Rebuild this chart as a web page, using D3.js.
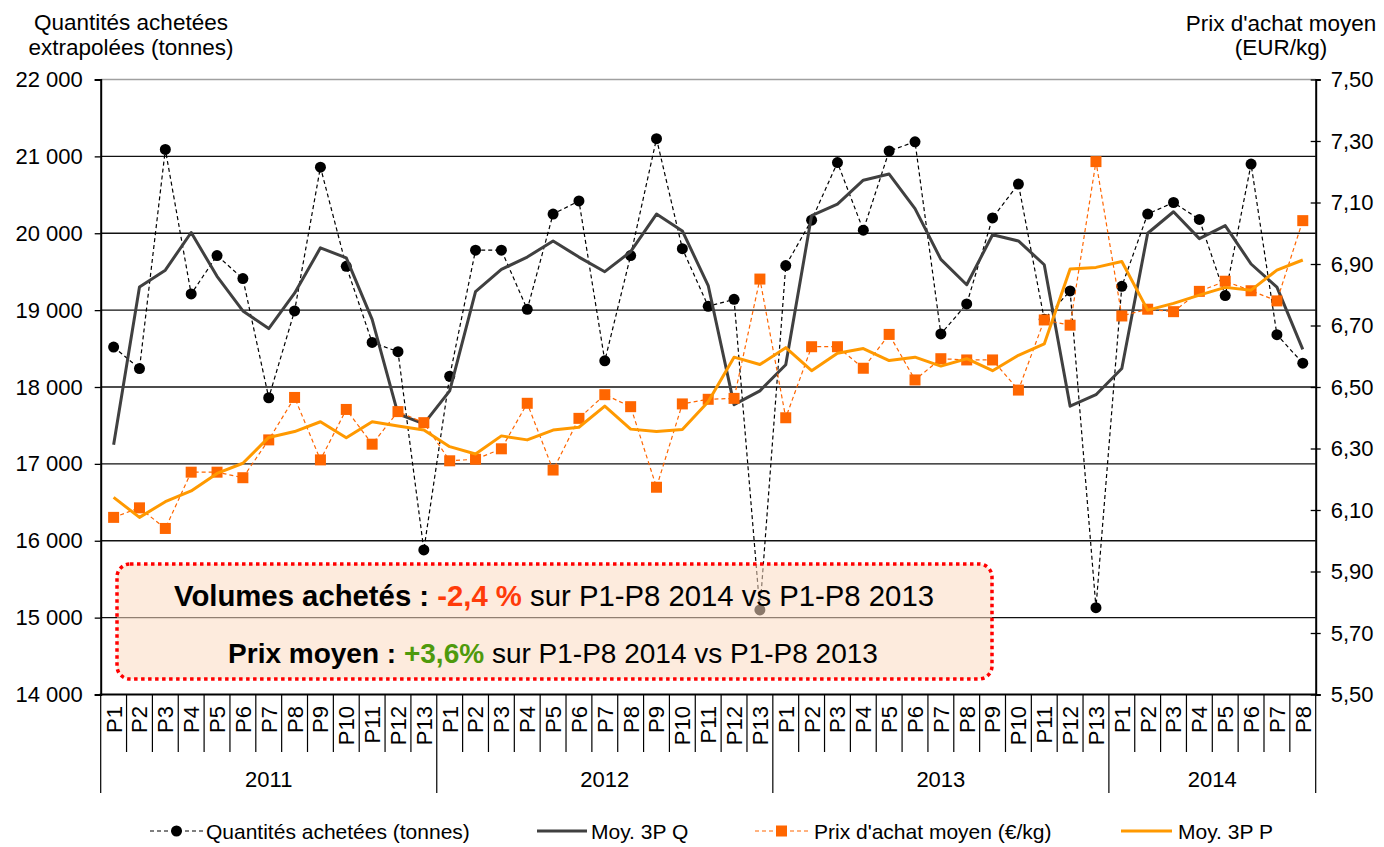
<!DOCTYPE html>
<html>
<head>
<meta charset="utf-8">
<script src="https://cdnjs.cloudflare.com/ajax/libs/d3/7.8.5/d3.min.js"></script>
<style>
    body { margin: 0; background: #fff; }
    text { font-family: "Liberation Sans", Arial, sans-serif; fill: #000; }
</style>
</head>
<body>
<div id="chart"></div>
<script>
// periods per year
var years = ["2011", "2012", "2013", "2014"];
var periodsPerYear = [13, 13, 13, 8];

// Quantités achetées (tonnes)
var quantites = [18520, 18240, 21090, 19210, 19710, 19410, 17860, 18990, 20860, 19570, 18580, 18460, 15880,
    18140, 19780, 19780, 19010, 20250, 20420, 18340, 19710, 21230, 19800, 19050, 19140, 15100,
    19580, 20170, 20920, 20040, 21070, 21190, 18690, 19080, 20200, 20640, 18880, 19250, 15130,
    19310, 20250, 20400, 20180, 19190, 20900, 18680, 18310];

// Moy. 3P Q
var moyQ = [17250, 19300, 19520, 20010, 19440, 18990, 18760, 19220, 19810, 19680, 18880, 17650, 17520,
    17950, 19240, 19530, 19690, 19900, 19690, 19500, 19760, 20250, 20030, 19320, 17770, 17950,
    18290, 20230, 20380, 20690, 20770, 20320, 19660, 19330, 19980, 19900, 19590, 17750, 17900,
    18240, 20000, 20280, 19930, 20100, 19600, 19300, 18490];

// Prix d'achat moyen (€/kg)
var prix = [6.076, 6.107, 6.040, 6.223, 6.223, 6.205, 6.328, 6.466, 6.263, 6.427, 6.314, 6.420, 6.384,
    6.260, 6.265, 6.299, 6.447, 6.230, 6.398, 6.475, 6.436, 6.174, 6.445, 6.460, 6.463, 6.851,
    6.400, 6.631, 6.631, 6.561, 6.671, 6.523, 6.592, 6.588, 6.588, 6.490, 6.718, 6.701, 7.233,
    6.731, 6.753, 6.745, 6.811, 6.844, 6.813, 6.780, 7.041];

// Moy. 3P P
var moyP = [6.141, 6.076, 6.127, 6.162, 6.219, 6.252, 6.336, 6.355, 6.387, 6.335, 6.387, 6.373, 6.360,
    6.306, 6.282, 6.341, 6.328, 6.360, 6.369, 6.438, 6.363, 6.355, 6.362, 6.452, 6.597, 6.573,
    6.628, 6.553, 6.610, 6.625, 6.586, 6.597, 6.568, 6.592, 6.553, 6.603, 6.640, 6.884, 6.889,
    6.908, 6.750, 6.772, 6.799, 6.824, 6.815, 6.880, 6.913];

var qTicks = [14000, 15000, 16000, 17000, 18000, 19000, 20000, 21000, 22000];
var pTicks = [5.5, 5.7, 5.9, 6.1, 6.3, 6.5, 6.7, 6.9, 7.1, 7.3, 7.5];

// build category list (year + period)
var categories = [];
years.forEach(function(y, yi) {
    for (var p = 1; p <= periodsPerYear[yi]; p++) {
        categories.push({year: y, period: "P" + p, key: y + "-P" + p});
    }
});

var width = 1384, height = 847;
var margin = {top: 79.5, left: 100.7, right: 1315.7, bottom: 694.5};

var svg = d3.select("#chart").append("svg")
    .attr("width", width)
    .attr("height", height);

var x = d3.scaleBand()
    .domain(categories.map(function(d) { return d.key; }))
    .range([margin.left, margin.right])
    .padding(0);

var yQ = d3.scaleLinear().domain([14000, 22000]).range([margin.bottom, margin.top]);
var yP = d3.scaleLinear().domain([5.5, 7.5]).range([margin.bottom, margin.top]);

var fr = d3.formatLocale({decimal: ",", thousands: "\u00a0", grouping: [3], currency: ["", "€"]});

function cx(i) { return x(categories[i].key) + x.bandwidth() / 2; }

// gridlines
svg.append("g").selectAll("line")
    .data(qTicks.slice(1))
    .enter().append("line")
    .attr("x1", margin.left).attr("x2", margin.right)
    .attr("y1", function(d) { return yQ(d); })
    .attr("y2", function(d) { return yQ(d); })
    .attr("stroke", function(d) { return d === 22000 ? "#a0a0a0" : "#111"; })
    .attr("stroke-width", 1.4);

// left axis
var leftAxis = svg.append("g")
    .attr("transform", "translate(" + margin.left + ",0)")
    .call(d3.axisLeft(yQ).tickValues(qTicks).tickSize(6).tickPadding(12).tickFormat(fr.format(",")));
leftAxis.select(".domain").attr("stroke", "#000").attr("stroke-width", 2);
leftAxis.selectAll(".tick line").attr("stroke", "#000").attr("stroke-width", 1.3);
leftAxis.selectAll("text").style("font-size", "22px").style("font-family", "Liberation Sans, Arial, sans-serif").attr("fill", "#000");

// right axis
var rightAxis = svg.append("g")
    .attr("transform", "translate(" + margin.right + ",0)")
    .call(d3.axisRight(yP).tickValues(pTicks).tickSize(5).tickPadding(10).tickFormat(fr.format(",.2f")));
rightAxis.select(".domain").attr("stroke", "#000").attr("stroke-width", 2);
rightAxis.selectAll(".tick line").attr("x1", -5).attr("stroke", "#000").attr("stroke-width", 1.3);
rightAxis.selectAll("text").style("font-size", "22px").style("font-family", "Liberation Sans, Arial, sans-serif").attr("fill", "#000");

// x axis: line, dividers, period and year labels
var xg = svg.append("g");
xg.append("line")
    .attr("x1", margin.left - 1).attr("x2", margin.right + 1)
    .attr("y1", margin.bottom).attr("y2", margin.bottom)
    .attr("stroke", "#000").attr("stroke-width", 2);

xg.selectAll(".div")
    .data(categories.slice(1))
    .enter().append("line")
    .attr("class", "div")
    .attr("x1", function(d) { return x(d.key); })
    .attr("x2", function(d) { return x(d.key); })
    .attr("y1", margin.bottom)
    .attr("y2", function(d) { return d.period === "P1" ? 793 : 752; })
    .attr("stroke", "#000").attr("stroke-width", 1.2);

[margin.left, margin.right].forEach(function(xx) {
    xg.append("line")
        .attr("x1", xx).attr("x2", xx)
        .attr("y1", margin.bottom).attr("y2", 793)
        .attr("stroke", "#000").attr("stroke-width", 1.2);
});

xg.selectAll(".plabel")
    .data(categories)
    .enter().append("text")
    .attr("class", "plabel")
    .attr("transform", function(d, i) { return "translate(" + cx(i) + ",706) rotate(-90)"; })
    .attr("text-anchor", "end")
    .attr("dy", "0.36em")
    .style("font-size", "22px")
    .text(function(d) { return d.period; });

var start = 0;
years.forEach(function(y, yi) {
    var a = x(categories[start].key);
    var b = x(categories[start + periodsPerYear[yi] - 1].key) + x.bandwidth();
    xg.append("text")
        .attr("x", (a + b) / 2).attr("y", 787)
        .attr("text-anchor", "middle")
        .style("font-size", "22px")
        .text(y);
    start += periodsPerYear[yi];
});

// axis titles
var tl = svg.append("text").attr("text-anchor", "middle").style("font-size", "22.5px");
tl.append("tspan").attr("x", 131).attr("y", 30).text("Quantités achetées");
tl.append("tspan").attr("x", 131).attr("y", 55).text("extrapolées (tonnes)");

var tr = svg.append("text").attr("text-anchor", "middle").style("font-size", "22.5px");
tr.append("tspan").attr("x", 1281).attr("y", 31).text("Prix d'achat moyen");
tr.append("tspan").attr("x", 1281).attr("y", 55).text("(EUR/kg)");

// series
var lineQ = d3.line().x(function(d, i) { return cx(i); }).y(function(d) { return yQ(d); });
var lineP = d3.line().x(function(d, i) { return cx(i); }).y(function(d) { return yP(d); });

svg.append("path")
    .datum(quantites)
    .attr("d", lineQ)
    .attr("fill", "none").attr("stroke", "#000").attr("stroke-width", 1.2)
    .attr("stroke-dasharray", "4,3");

svg.append("g").selectAll("circle")
    .data(quantites)
    .enter().append("circle")
    .attr("cx", function(d, i) { return cx(i); })
    .attr("cy", function(d) { return yQ(d); })
    .attr("r", 5.5)
    .attr("fill", "#000");

svg.append("path")
    .datum(moyQ)
    .attr("d", lineQ)
    .attr("fill", "none").attr("stroke", "#404040").attr("stroke-width", 3)
    .attr("stroke-linejoin", "round");

svg.append("path")
    .datum(prix)
    .attr("d", lineP)
    .attr("fill", "none").attr("stroke", "#FF6600").attr("stroke-width", 1.2)
    .attr("stroke-dasharray", "4,3");

var sq = 11;
svg.append("g").selectAll("rect")
    .data(prix)
    .enter().append("rect")
    .attr("x", function(d, i) { return cx(i) - sq / 2; })
    .attr("y", function(d) { return yP(d) - sq / 2; })
    .attr("width", sq).attr("height", sq)
    .attr("fill", "#FF6600");

svg.append("path")
    .datum(moyP)
    .attr("d", lineP)
    .attr("fill", "none").attr("stroke", "#FF9900").attr("stroke-width", 3)
    .attr("stroke-linejoin", "round");

// annotation box
svg.append("rect")
    .attr("x", 117).attr("y", 564)
    .attr("width", 875).attr("height", 115)
    .attr("rx", 13).attr("ry", 13)
    .attr("fill", "#FBDBC1").attr("fill-opacity", 0.55)
    .attr("stroke", "#FF0000").attr("stroke-width", 3.5)
    .attr("stroke-dasharray", "3.5,3.5");

var a1 = svg.append("text")
    .attr("x", 554).attr("y", 606)
    .attr("text-anchor", "middle")
    .style("font-size", "29.3px");
a1.append("tspan").attr("font-weight", "bold").text("Volumes achetés : ");
a1.append("tspan").attr("font-weight", "bold").style("fill", "#FF3B0A").text("-2,4 %");
a1.append("tspan").text(" sur P1-P8 2014 vs P1-P8 2013");

var a2 = svg.append("text")
    .attr("x", 553).attr("y", 663)
    .attr("text-anchor", "middle")
    .style("font-size", "28px");
a2.append("tspan").attr("font-weight", "bold").text("Prix moyen : ");
a2.append("tspan").attr("font-weight", "bold").style("fill", "#4E9A0C").text("+3,6%");
a2.append("tspan").text(" sur P1-P8 2014 vs P1-P8 2013");

// legend
var legendY = 831;
var legendItems = [
    {x1: 150, x2: 203, tx: 206, color: "#000", width: 1.2, dash: "4,3", marker: "circle", label: "Quantités achetées (tonnes)"},
    {x1: 537, x2: 587, tx: 591, color: "#404040", width: 3, dash: null, marker: null, label: "Moy. 3P Q"},
    {x1: 755, x2: 808, tx: 814, color: "#FF6600", width: 1.2, dash: "4,3", marker: "square", label: "Prix d'achat moyen (€/kg)"},
    {x1: 1121, x2: 1172, tx: 1178, color: "#FF9900", width: 3, dash: null, marker: null, label: "Moy. 3P P"}
];

var lg = svg.append("g").selectAll("g")
    .data(legendItems)
    .enter().append("g");

lg.append("line")
    .attr("x1", function(d) { return d.x1; })
    .attr("x2", function(d) { return d.x2; })
    .attr("y1", legendY).attr("y2", legendY)
    .attr("stroke", function(d) { return d.color; })
    .attr("stroke-width", function(d) { return d.width; })
    .attr("stroke-dasharray", function(d) { return d.dash; });

lg.filter(function(d) { return d.marker === "circle"; })
    .append("circle")
    .attr("cx", function(d) { return (d.x1 + d.x2) / 2; })
    .attr("cy", legendY).attr("r", 5.5)
    .attr("fill", function(d) { return d.color; });

lg.filter(function(d) { return d.marker === "square"; })
    .append("rect")
    .attr("x", function(d) { return (d.x1 + d.x2) / 2 - sq / 2; })
    .attr("y", legendY - sq / 2)
    .attr("width", sq).attr("height", sq)
    .attr("fill", function(d) { return d.color; });

lg.append("text")
    .attr("x", function(d) { return d.tx; })
    .attr("y", legendY)
    .attr("dy", "0.36em")
    .style("font-size", "21px")
    .text(function(d) { return d.label; });
</script>
</body>
</html>
